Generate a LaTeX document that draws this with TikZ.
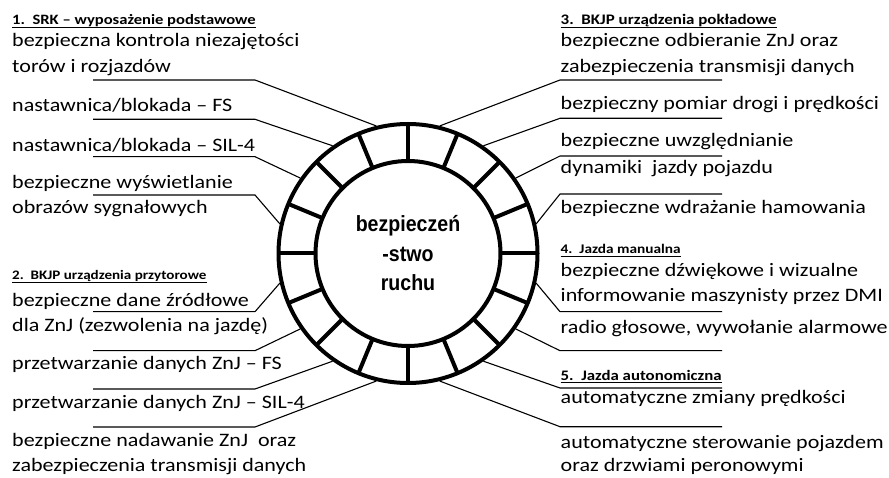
\documentclass[tikz,border=0pt]{standalone}
\usepackage{fontspec}
\newfontfamily\txtfont{Carlito}[FakeStretch=1.16]
\newfontfamily\midfont{Liberation Sans}[FakeStretch=0.89]
\usetikzlibrary{calc}

\tikzset{
  ring/.style={line width=4pt},
  lead/.style={line width=1.1pt},
  hline/.style={line width=0.9pt},
  item/.style={anchor=base west, inner sep=0pt, font=\txtfont\fontsize{19}{23}\selectfont},
  head/.style={anchor=base west, inner sep=0pt, font=\txtfont\bfseries\fontsize{#1}{16}\selectfont},
  head/.default=13.5,
  mid/.style={anchor=base, inner sep=0pt, font=\midfont\bfseries\fontsize{22}{26}\selectfont}
}

\begin{document}
\begin{tikzpicture}[x=1pt,y=1pt]
\useasboundingbox (0,0) rectangle (889,477);

% Ring
\coordinate (c) at (408,223.5);
\draw[ring] (c) circle (129.5pt);
\draw[ring] (c) circle (92.5pt);
\foreach \a in {0,22.5,...,337.5}
  \draw[ring] ($(c)+(\a:92.5pt)$) -- ($(c)+(\a:129.5pt)$);
\node[mid] (m1) at (408,245.3) {bezpieczeń};
\node[mid] (m2) at (408,215.3) {-stwo};
\node[mid] (m3) at (408,186) {ruchu};

% Left texts
\node[head=14.3] (h1) at (12,452) {1.~~SRK – wyposażenie podstawowe};
\node[item] (t1a) at (12,430.3) {bezpieczna kontrola niezajętości};
\node[item] (t1b) at (12,404.3) {torów i rozjazdów};
\node[item] (t2) at (12,365.3) {nastawnica/blokada – FS};
\node[item] (t3) at (12,325.3) {nastawnica/blokada – SIL-4};
\node[item] (t4a) at (12,288.7) {bezpieczne wyświetlanie};
\node[item] (t4b) at (12,263.7) {obrazów sygnałowych};
\node[head=13] (h2) at (12,197) {2.~~BKJP urządzenia przytorowe};
\node[item] (t5a) at (12,170.3) {bezpieczne dane źródłowe};
\node[item] (t5b) at (12,145.3) {dla ZnJ (zezwolenia na jazdę)};
\node[item] (t6) at (12,107) {przetwarzanie danych ZnJ – FS};
\node[item] (t7) at (12,69) {przetwarzanie danych ZnJ – SIL-4};
\node[item] (t8a) at (12,30.3) {bezpieczne nadawanie ZnJ~~oraz};
\node[item] (t8b) at (12,5.3) {zabezpieczenia transmisji danych};

% Right texts
\node[head=14.6] (h3) at (560.5,452) {3.~~BKJP urządzenia pokładowe};
\node[item] (r1a) at (560.5,430.3) {bezpieczne odbieranie ZnJ oraz};
\node[item] (r1b) at (560.5,404.3) {zabezpieczenia transmisji danych};
\node[item] (r2) at (560.5,367) {bezpieczny pomiar drogi i prędkości};
\node[item] (r3a) at (560.5,330.3) {bezpieczne uwzględnianie};
\node[item] (r3b) at (560.5,303.7) {dynamiki~~jazdy pojazdu};
\node[item] (r4) at (560.5,263.7) {bezpieczne wdrażanie hamowania};
\node[head=13.2] (h4) at (560.5,223) {4.~~Jazda manualna};
\node[item] (r5a) at (560.5,200.3) {bezpieczne dźwiękowe i wizualne};
\node[item] (r5b) at (560.5,175.3) {informowanie maszynisty przez DMI};
\node[item] (r6) at (560.5,143.7) {radio głosowe, wywołanie alarmowe};
\node[head=14.5] (h5) at (560.5,97) {5.~~Jazda autonomiczna};
\node[item] (r7) at (560.5,73.7) {automatyczne zmiany prędkości};
\node[item] (r8a) at (560.5,28.7) {automatyczne sterowanie pojazdem};
\node[item] (r8b) at (560.5,5.3) {oraz drzwiami peronowymi};

% Heading underlines
\foreach \h in {h1,h2,h3,h4,h5}
  \draw[hline] ([yshift=-2.5pt]\h.base west) -- ([yshift=-2.5pt]\h.base east);

% Connector points on the ring
\path (c) ++(104:131.5pt) coordinate (pl1) (c) ++(125:131.5pt) coordinate (pl2)
      (c) ++(145:131.5pt) coordinate (pl3) (c) ++(167:131.5pt) coordinate (pl4)
      (c) ++(193:131.5pt) coordinate (pl5) (c) ++(215:131.5pt) coordinate (pl6)
      (c) ++(235:131.5pt) coordinate (pl7) (c) ++(256:131.5pt) coordinate (pl8);
\path (c) ++(76:131.5pt) coordinate (pr1) (c) ++(55:131.5pt) coordinate (pr2)
      (c) ++(35:131.5pt) coordinate (pr3) (c) ++(13:131.5pt) coordinate (pr4)
      (c) ++(-13:131.5pt) coordinate (pr5) (c) ++(-35:131.5pt) coordinate (pr6)
      (c) ++(-55:131.5pt) coordinate (pr7) (c) ++(-76:131.5pt) coordinate (pr8);

% Left underlines
\coordinate (ql1) at (255,397);   \coordinate (el1) at (93,397);
\coordinate (ql2) at (255,357.7); \coordinate (el2) at (93,357.7);
\coordinate (ql3) at (255,320.3); \coordinate (el3) at (93,320.3);
\coordinate (ql4) at (255,282);   \coordinate (el4) at (93,282);
\coordinate (ql5) at (255,165.3); \coordinate (el5) at (93,165.3);
\coordinate (ql6) at (255,126.3); \coordinate (el6) at (93,126.3);
\coordinate (ql7) at (255,88);    \coordinate (el7) at (93,88);
\coordinate (ql8) at (255,50);    \coordinate (el8) at (93,50);

% Right underlines
\coordinate (qr1) at (560,397);   \coordinate (er1) at (722,397);
\coordinate (qr2) at (560,358.7); \coordinate (er2) at (722,358.7);
\coordinate (qr3) at (560,321);   \coordinate (er3) at (722,321);
\coordinate (qr4) at (560,283);   \coordinate (er4) at (722,283);
\coordinate (qr5) at (560,165.3); \coordinate (er5) at (722,165.3);
\coordinate (qr6) at (560,126.3); \coordinate (er6) at (722,126.3);
\coordinate (qr7) at (560,89);    \coordinate (er7) at (722,89);
\coordinate (qr8) at (560,50.3);  \coordinate (er8) at (722,50.3);

% Connectors
\foreach \i in {1,...,8} {
  \draw[lead] (pl\i) -- (ql\i) -- (el\i);
  \draw[lead] (pr\i) -- (qr\i) -- (er\i);
}
\end{tikzpicture}
\end{document}
